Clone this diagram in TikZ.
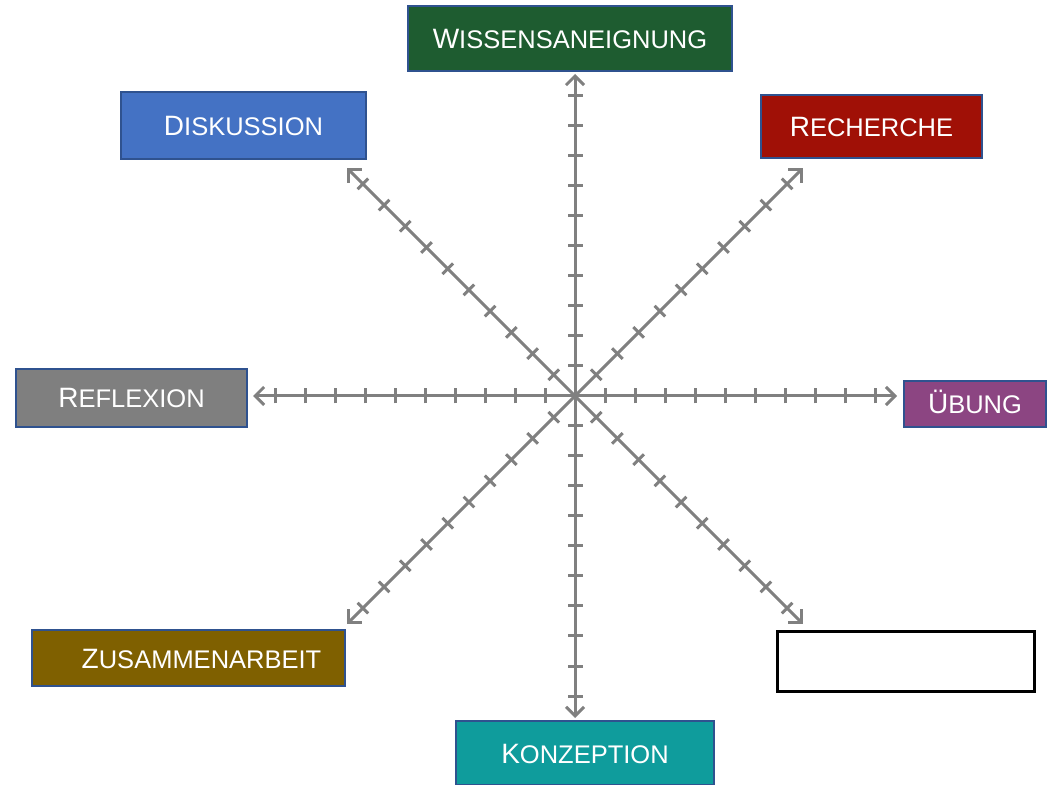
\documentclass[tikz,border=0pt]{standalone}
\usepackage{fontspec}
\setmainfont{Liberation Sans}
\usepackage{xcolor}
\usetikzlibrary{
  positioning,
  arrows.meta
}
\definecolor{axisgray}{HTML}{808080}
\definecolor{boxline}{HTML}{2F528F}
\definecolor{wissgreen}{HTML}{1E5C30}
\definecolor{diskblue}{HTML}{4472C4}
\definecolor{rechred}{HTML}{A01006}
\definecolor{reflgray}{HTML}{7F7F7F}
\definecolor{uebpurple}{HTML}{8C4582}
\definecolor{zusolive}{HTML}{7F6000}
\definecolor{konzteal}{HTML}{0F9C9C}
% first letter large, rest as small capitals
\newcommand{\sclabel}[2]{{\fontsize{28}{28}\selectfont #1}{\fontsize{25.5}{25.5}\selectfont #2}}

\begin{document}
\begin{tikzpicture}[x=1pt,y=1pt,>={Straight Barb[length=9pt,width=18pt]},
  axis/.style={draw=axisgray,line width=3pt},
  tickmark/.style={draw=axisgray,line width=3pt},
  box/.style={draw=boxline,line width=2pt,text=white,inner sep=0pt,
    text height=20pt,text depth=0pt}]
  \useasboundingbox (0,0) rectangle (1048,784);
  \coordinate (c) at (575,388);

  % axes with ticks
  \foreach \a in {0,45,90,135} {
    \begin{scope}[shift={(c)},rotate=\a]
      \coordinate (p\a) at (322,0);
      \coordinate (q\a) at (-322,0);
      \draw[axis,<->] (q\a) -- (p\a);
      \foreach \i in {1,...,10} {
        \draw[tickmark] (\i*30,-7.5) -- (\i*30,7.5);
        \draw[tickmark] (-\i*30,-7.5) -- (-\i*30,7.5);
      }
    \end{scope}
  }

  % boxes
  \node[box,fill=wissgreen,minimum width=324pt,minimum height=65pt] (wissen) at (570,745.5) {\sclabel{W}{ISSENSANEIGNUNG}};
  \node[box,fill=diskblue,minimum width=245pt,minimum height=67pt] (disk) at (243.5,658.5) {\sclabel{D}{ISKUSSION}};
  \node[box,fill=rechred,minimum width=221pt,minimum height=63pt] (rech) at (871.5,657.5) {\sclabel{R}{ECHERCHE}};
  \node[box,fill=reflgray,minimum width=231pt,minimum height=58pt] (refl) at (131.5,386) {\sclabel{R}{EFLEXION}};
  \node[box,fill=uebpurple,minimum width=142pt,minimum height=46pt] (ueb) at (975,380) {\sclabel{Ü}{BUNG}};
  \node[box,fill=zusolive,minimum width=313pt,minimum height=56pt] (zus) at (188.5,126) {\hspace*{26pt}\sclabel{Z}{USAMMENARBEIT}};
  \node[draw=black,line width=3pt,fill=white,minimum width=257pt,minimum height=60pt] (leer) at (906,122.5) {};
  \node[box,fill=konzteal,minimum width=258pt,minimum height=64pt] (konz) at (585,31) {\sclabel{K}{ONZEPTION}};
\end{tikzpicture}
\end{document}
